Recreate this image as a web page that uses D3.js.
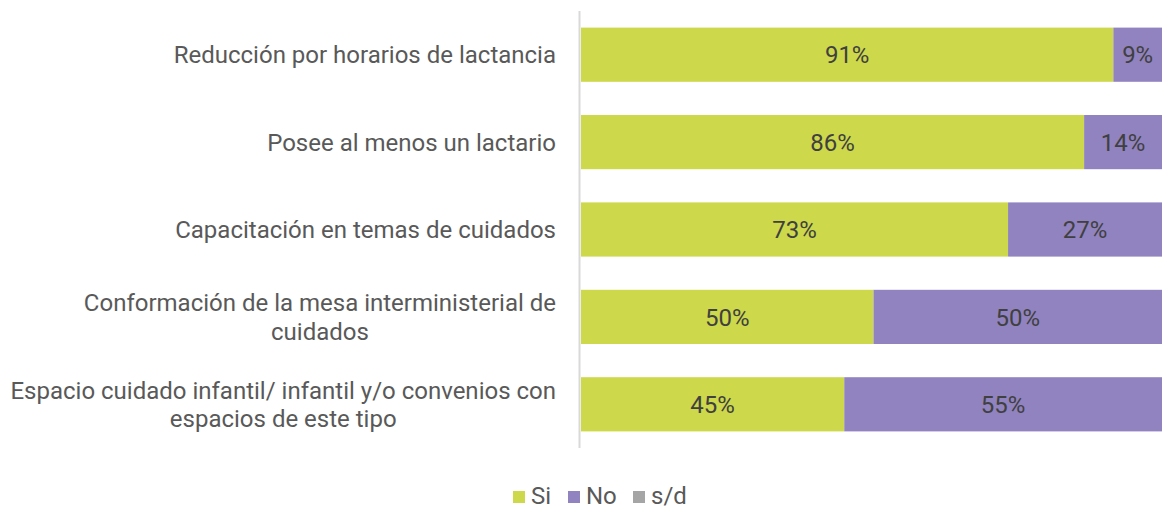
<!DOCTYPE html>
<html>
<head>
<meta charset="utf-8">
<script src="https://cdn.jsdelivr.net/npm/d3@7"></script>
<style>
  body { margin: 0; background: #fff; }
  text { font-family: Roboto, "Open Sans", sans-serif; }
</style>
</head>
<body>
<script>
var categories = [
  "Reducción por horarios de lactancia",
  "Posee al menos un lactario",
  "Capacitación en temas de cuidados",
  "Conformación de la mesa interministerial de|cuidados",
  "Espacio cuidado infantil/ infantil y/o convenios con|espacios de este tipo"
];
var siValues = [91, 86, 73, 50, 45];
var noValues = [9, 14, 27, 50, 55];
var sdValues = [0, 0, 0, 0, 0];
var seriesNames = ["Si", "No", "s/d"];
var seriesColors = ["#cdd84a", "#9183bf", "#a5a5a5"];

var W = 1162, H = 510;
var svg = d3.select("body").append("svg").attr("width", W).attr("height", H);

var y = d3.scaleBand().domain(d3.range(categories.length)).range([11, 448])
    .paddingInner(0.38).paddingOuter(0.19);
var x = d3.scaleLinear().domain([0, 100]).range([581, 1166]);

var rows = categories.map(function(c, i){
  return {i: i, Si: siValues[i], No: noValues[i], "s/d": sdValues[i]};
});
var stacked = d3.stack().keys(seriesNames)(rows);

stacked.forEach(function(layer, k){
  var g = svg.append("g");
  g.selectAll("rect").data(layer).enter().append("rect")
    .attr("x", function(d){ return x(d[0]); })
    .attr("y", function(d){ return y(d.data.i); })
    .attr("width", function(d){ return x(d[1]) - x(d[0]); })
    .attr("height", y.bandwidth())
    .attr("fill", seriesColors[k]);
  g.selectAll("text").data(layer.filter(function(d){ return d[1] - d[0] > 0; })).enter().append("text")
    .attr("x", function(d){ return (x(d[0]) + Math.min(x(d[1]), W)) / 2; })
    .attr("y", function(d){ return y(d.data.i) + y.bandwidth() / 2; })
    .attr("dy", "0.36em")
    .attr("text-anchor", "middle")
    .attr("font-size", 24)
    .attr("fill", "#404040")
    .text(function(d){ return (d[1] - d[0]) + "%"; });
});

// axis line
svg.append("line").attr("x1", 579.5).attr("x2", 579.5).attr("y1", 11).attr("y2", 448)
  .attr("stroke", "#d9d9d9").attr("stroke-width", 2);

// category labels, right aligned, wrapped lines centered on the widest
categories.forEach(function(c, i){
  var lines = c.split("|");
  var cy = y(i) + y.bandwidth() / 2;
  var g = svg.append("g");
  var ts = lines.map(function(l, j){
    return g.append("text")
      .attr("y", cy + (j - (lines.length - 1) / 2) * 28.5)
      .attr("dy", "0.36em")
      .attr("font-size", 24)
      .attr("fill", "#595959")
      .attr("text-anchor", "middle")
      .text(l);
  });
  var maxW = d3.max(ts, function(t){ return t.node().getComputedTextLength(); });
  ts.forEach(function(t){ t.attr("x", 556 - maxW / 2); });
});

// legend
var legX = [513, 568, 633];
seriesNames.forEach(function(n, k){
  svg.append("rect").attr("x", legX[k]).attr("y", 491).attr("width", 12).attr("height", 12)
    .attr("fill", seriesColors[k]);
  svg.append("text").attr("x", legX[k] + 18).attr("y", 504)
    .attr("font-size", 24).attr("fill", "#595959").text(n);
});
</script>
</body>
</html>
